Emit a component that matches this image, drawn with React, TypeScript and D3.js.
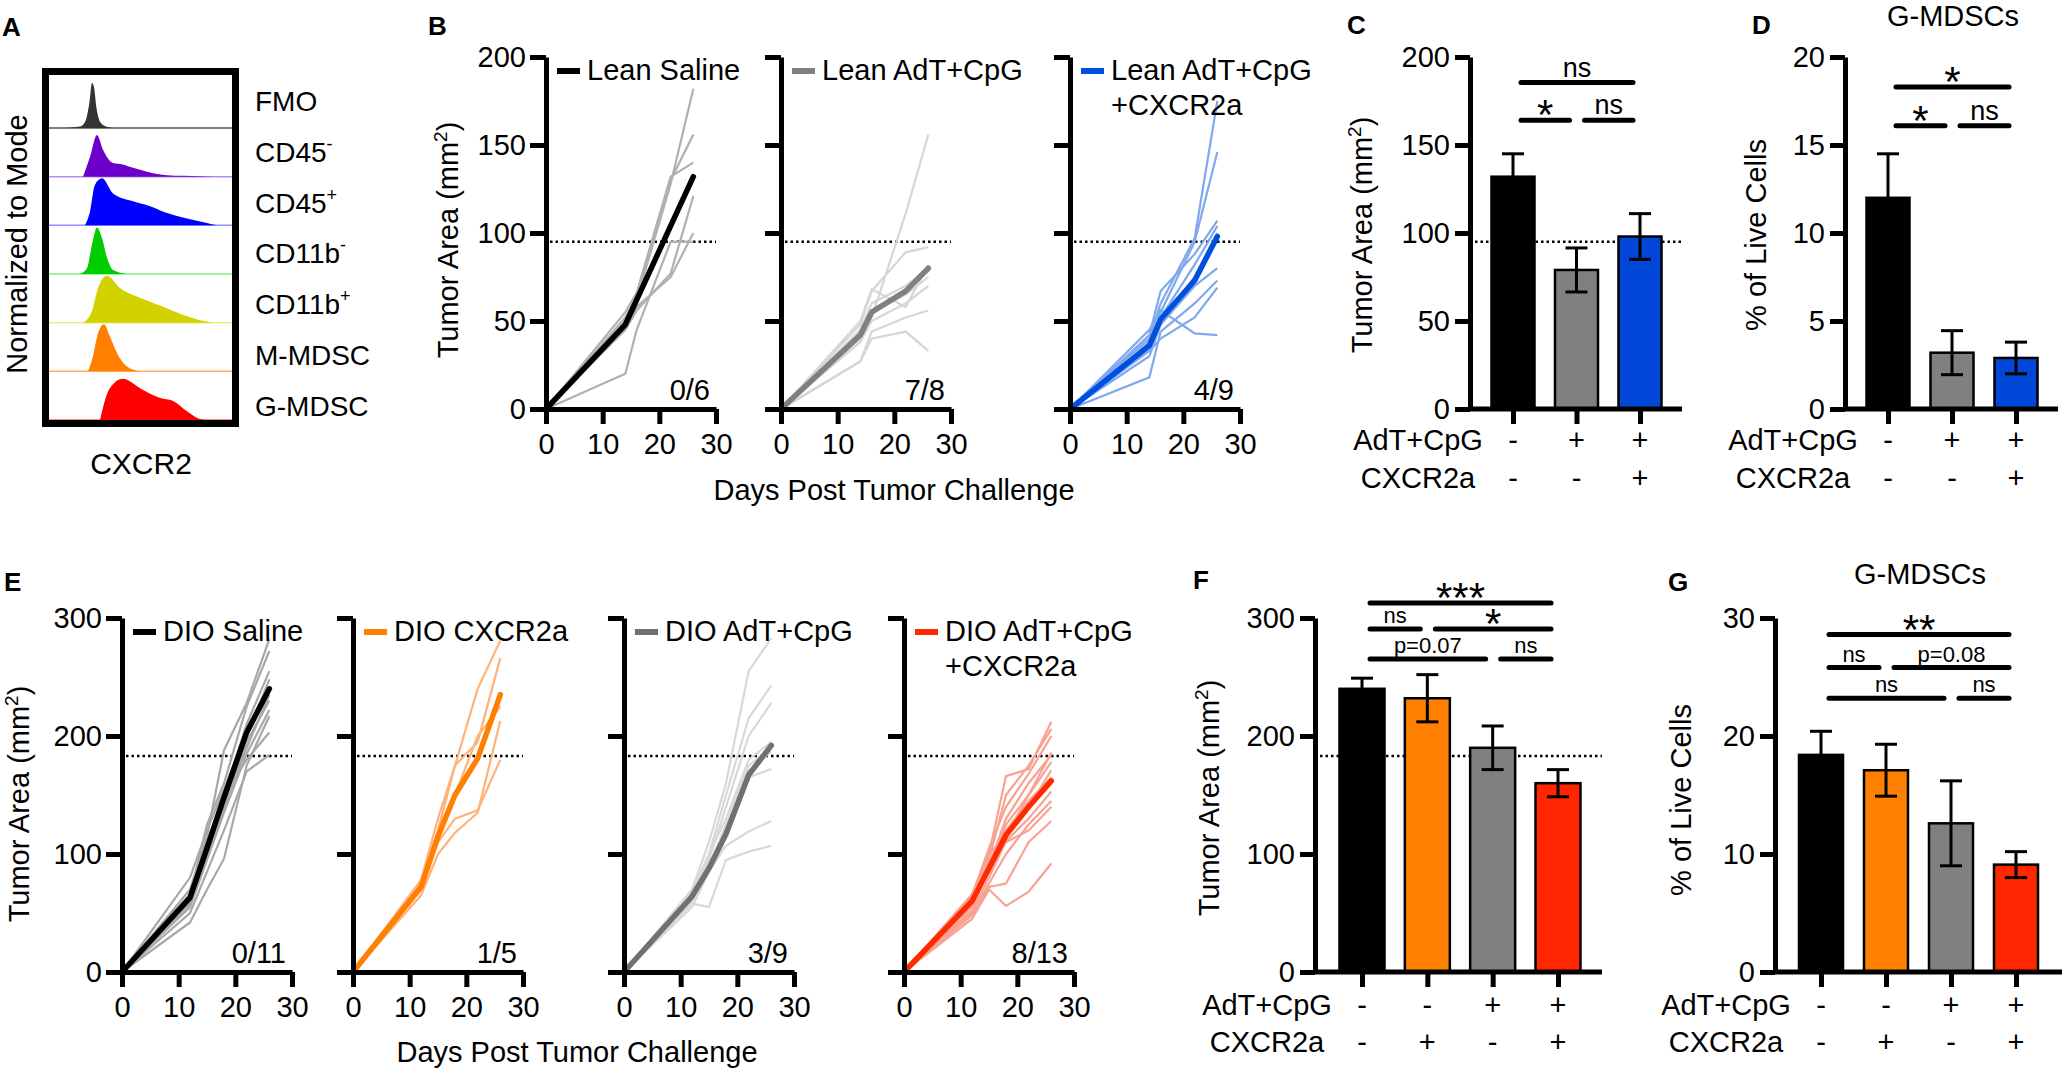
import React, { useEffect, useRef } from 'react';
import * as d3 from 'd3';

const W = 2062;
const H = 1070;
const FONT = "'Liberation Sans', Arial, Helvetica, sans-serif";

// ---------- A: CXCR2 histograms (normalized to mode) ----------
const histNames = ['FMO', 'CD45', 'CD45', 'CD11b', 'CD11b', 'M-MDSC', 'G-MDSC'];
const histSups = ['', '-', '+', '-', '+', '', ''];
const histColors = ['#333333', '#6a00c9', '#0000ff', '#00cc00', '#d2d200', '#ff8000', '#ff0000'];
const histEdges = ['#555555', '#b58cf0', '#9090ff', '#80ee80', '#eeee80', '#ffb060', '#ff6060'];
const histX = [
  [8, 17, 20, 22, 23.5, 24.5, 26, 28, 31, 35],
  [18.6, 22.4, 26.2, 29.5, 35, 40.4, 45.9, 53.6, 64.5, 82.5, 90],
  [19.7, 22.4, 25, 29, 35, 45.9, 55.2, 64.5, 75.4, 86.3, 91.8],
  [17, 20.8, 23.5, 26.2, 29, 31.7, 35, 42.6],
  [18.6, 23.5, 26.8, 31.7, 38.8, 49.7, 60.7, 71.6, 82.5, 89.6],
  [21.3, 24, 26.8, 30, 33.3, 37.2, 42.6, 49.7],
  [27.9, 31.7, 35, 40.4, 49.7, 60.7, 67.8, 75.4, 82.5, 85],
];
const histY = [
  [0, 0.03, 0.15, 0.5, 0.92, 0.85, 0.4, 0.12, 0.03, 0],
  [0, 0.4, 0.85, 0.55, 0.28, 0.25, 0.18, 0.1, 0.03, 0.01, 0],
  [0, 0.28, 0.82, 0.96, 0.65, 0.49, 0.39, 0.25, 0.14, 0.05, 0],
  [0, 0.12, 0.6, 0.95, 0.73, 0.33, 0.08, 0],
  [0, 0.24, 0.71, 0.96, 0.71, 0.51, 0.35, 0.18, 0.05, 0],
  [0, 0.3, 0.78, 0.96, 0.71, 0.37, 0.1, 0],
  [0, 0.53, 0.73, 0.84, 0.65, 0.45, 0.39, 0.18, 0.02, 0],
];

// ---------- B: lean mice tumor growth ----------
const leanDays = [0, 14, 16, 22, 26];
const leanSalineMice = [
  [0, 50, 62, 128, 182],
  [0, 52, 64, 130, 156],
  [0, 55, 66, 132, 140],
  [0, 45, 56, 77, 121],
  [0, 20, 45, 95, 95],
  [0, 47, 58, 75, 100],
];
const leanSalineMean = [0, 48, 62, 104, 132];
const leanAdtMice = [
  [0, 42, 52, 111, 156],
  [0, 48, 67, 89, 92],
  [0, 50, 68, 58, 82],
  [0, 27, 44, 52, 56],
  [0, 27, 40, 44, 33],
  [0, 40, 55, 65, 75],
  [0, 38, 50, 60, 70],
  [0, 45, 60, 70, 80],
];
const leanAdtMean = [0, 42, 55, 67, 80];
const leanComboMice = [
  [0, 40, 60, 97, 175],
  [0, 38, 55, 95, 146],
  [0, 42, 67, 88, 107],
  [0, 35, 52, 82, 104],
  [0, 30, 48, 70, 80],
  [0, 18, 44, 60, 73],
  [0, 33, 40, 52, 69],
  [0, 45, 56, 43, 42],
  [0, 36, 50, 75, 100],
];
const leanComboMean = [0, 36, 51, 73, 98];

// ---------- C / D: lean endpoints ----------
const leanGroups = ['Saline', 'AdT+CpG', 'AdT+CpG+CXCR2a'];
const leanAdtSigns = ['-', '+', '+'];
const leanCxcrSigns = ['-', '-', '+'];
const leanAreaMean = [132, 79, 98];
const leanAreaSem = [13, 12.5, 13];
const leanGmdscMean = [12.0, 3.2, 2.9];
const leanGmdscSem = [2.5, 1.25, 0.9];
const leanSigPairs = [[0, 2], [0, 1], [1, 2]];
const leanAreaSigLabels = ['ns', '*', 'ns'];
const leanAreaSigLevels = [185.5, 164, 164];
const leanGmdscSigLabels = ['*', '*', 'ns'];
const leanGmdscSigLevels = [18.3, 16.1, 16.1];

// ---------- E: DIO mice tumor growth ----------
const dioDays = [0, 12, 15, 18, 22, 26];
const dioSalineMice = [
  [0, 70, 115, 188, 228, 282],
  [0, 65, 125, 160, 225, 272],
  [0, 62, 110, 150, 210, 255],
  [0, 58, 105, 145, 200, 248],
  [0, 80, 120, 155, 205, 240],
  [0, 60, 100, 140, 195, 230],
  [0, 55, 95, 135, 185, 222],
  [0, 42, 70, 96, 175, 217],
  [0, 66, 110, 150, 180, 203],
  [0, 50, 85, 120, 170, 184],
  [0, 63, 100, 140, 190, 235],
];
const dioSalineMean = [0, 63, 105, 148, 203, 240];
const dioCxcrMice = [
  [0, 78, 130, 175, 240, 281],
  [0, 70, 115, 150, 200, 225],
  [0, 65, 100, 118, 135, 213],
  [0, 72, 110, 130, 137, 180],
  [0, 75, 120, 175, 195, 266],
];
const dioCxcrMean = [0, 72, 115, 150, 181, 235];
const dioAdtMice = [
  [0, 70, 110, 160, 255, 283],
  [0, 65, 100, 150, 215, 243],
  [0, 62, 95, 140, 200, 228],
  [0, 60, 90, 120, 170, 187],
  [0, 66, 85, 115, 165, 172],
  [0, 55, 85, 107, 119, 128],
  [0, 58, 55, 95, 102, 107],
  [0, 68, 100, 130, 180, 195],
  [0, 64, 90, 125, 175, 190],
];
const dioAdtMean = [0, 64, 88, 117, 167, 192];
const dioComboMice = [
  [0, 62, 100, 166, 172, 212],
  [0, 60, 95, 150, 175, 206],
  [0, 65, 105, 140, 168, 200],
  [0, 58, 90, 130, 160, 184],
  [0, 55, 88, 125, 150, 178],
  [0, 60, 85, 118, 140, 171],
  [0, 63, 92, 120, 145, 165],
  [0, 52, 80, 111, 130, 153],
  [0, 50, 75, 100, 125, 145],
  [0, 57, 88, 110, 120, 140],
  [0, 48, 72, 75, 110, 128],
  [0, 45, 70, 56, 68, 92],
  [0, 66, 100, 115, 150, 186],
];
const dioComboMean = [0, 60, 88, 116, 140, 162];

// ---------- F / G: DIO endpoints ----------
const dioGroups = ['Saline', 'CXCR2a', 'AdT+CpG', 'AdT+CpG+CXCR2a'];
const dioAdtSigns = ['-', '-', '+', '+'];
const dioCxcrSigns = ['-', '+', '-', '+'];
const dioAreaMean = [240, 232, 190, 160];
const dioAreaSem = [9, 20, 18.5, 11.5];
const dioGmdscMean = [18.4, 17.1, 12.6, 9.1];
const dioGmdscSem = [2.0, 2.2, 3.6, 1.1];
const dioSigPairs = [[0, 3], [0, 1], [1, 3], [0, 2], [2, 3]];
const dioAreaSigLabels = ['***', 'ns', '*', 'p=0.07', 'ns'];
const dioAreaSigLevels = [312.7, 290.7, 290.7, 265.3, 265.3];
const dioGmdscSigLabels = ['**', 'ns', 'p=0.08', 'ns', 'ns'];
const dioGmdscSigLevels = [28.6, 25.8, 25.8, 23.2, 23.2];

type Sel = d3.Selection<any, any, any, any>;

const addText = (g: Sel, x: number, y: number, txt: string, size: number, anchor = 'start', weight = 'normal') =>
  g
    .append('text')
    .attr('x', x)
    .attr('y', y)
    .attr('text-anchor', anchor)
    .style('font-family', FONT)
    .style('font-size', `${size}px`)
    .style('font-weight', weight)
    .attr('fill', '#000')
    .text(txt);

// rotated axis title; sup = superscript appended after main text, then tail
const yTitle = (g: Sel, cx: number, cy: number, main: string, sup = '', tail = '') => {
  const t = g
    .append('text')
    .attr('transform', `translate(${cx + 9},${cy}) rotate(-90)`)
    .attr('text-anchor', 'middle')
    .style('font-family', FONT)
    .style('font-size', '29px')
    .attr('fill', '#000');
  t.append('tspan').text(main);
  if (sup) {
    t.append('tspan').attr('dy', -11).style('font-size', '19px').text(sup);
    t.append('tspan').attr('dy', 11).text(tail);
  }
};

const styleAxis = (ax: Sel) => {
  ax.attr('font-family', FONT).attr('font-size', 29);
  ax.select('.domain').attr('stroke', '#000').attr('stroke-width', 5);
  ax.selectAll('.tick line').attr('stroke', '#000').attr('stroke-width', 5);
  ax.selectAll('.tick text').attr('fill', '#000');
};

function drawHistograms(svg: Sel) {
  const g = svg.append('g');
  const x = d3.scaleLinear().domain([0, 100]).range([49, 232]);
  const base = d3.scaleLinear().domain([0, 6]).range([128, 420]);
  const rowH = 49;
  histX.forEach((xs, i) => {
    const b = base(i);
    const area = d3
      .area<number>()
      .x((_, j) => x(xs[j]))
      .y0(b)
      .y1((d) => b - d * rowH)
      .curve(d3.curveMonotoneX);
    g.append('line').attr('x1', 49).attr('x2', 232).attr('y1', b).attr('y2', b)
      .attr('stroke', histEdges[i]).attr('stroke-width', 1.5);
    g.append('path').attr('d', area(histY[i])).attr('fill', histColors[i]);
    const t = addText(g, 255, 101 + i * 50.8 + 10, histNames[i], 28);
    if (histSups[i]) t.append('tspan').attr('dy', -12).style('font-size', '18px').text(histSups[i]);
  });
  g.append('rect').attr('x', 45.5).attr('y', 71.5).attr('width', 190).attr('height', 352)
    .attr('fill', 'none').attr('stroke', '#000').attr('stroke-width', 7);
  yTitle(g, 18, 244, 'Normalized to Mode');
  addText(g, 141, 474, 'CXCR2', 30, 'middle');
  addText(g, 2, 36, 'A', 26, 'start', 'bold');
}

type GrowthOpts = {
  ax: number; yBot: number; yTop: number; yMax: number; yStep: number; yLabels: boolean;
  days: number[]; mice: number[][]; mean: number[]; light: string; dark: string;
  legend: string[]; count: string; cut: number;
};

function drawGrowth(svg: Sel, o: GrowthOpts) {
  const x = d3.scaleLinear().domain([0, 30]).range([o.ax, o.ax + 170]);
  const y = d3.scaleLinear().domain([0, o.yMax]).range([o.yBot, o.yTop]);
  const g = svg.append('g');

  g.append('line')
    .attr('x1', o.ax + 4).attr('x2', x(30))
    .attr('y1', y(o.cut)).attr('y2', y(o.cut))
    .attr('stroke', '#000').attr('stroke-width', 2.5).attr('stroke-dasharray', '2.5,3');

  const line = d3.line<number>().x((_, i) => x(o.days[i])).y((d) => y(d));
  g.selectAll('path.mouse').data(o.mice).enter().append('path')
    .attr('class', 'mouse')
    .attr('d', (d) => line(d))
    .attr('fill', 'none').attr('stroke', o.light).attr('stroke-width', 2.2);
  g.append('path').datum(o.mean).attr('d', line)
    .attr('fill', 'none').attr('stroke', o.dark).attr('stroke-width', 5.5)
    .attr('stroke-linejoin', 'round').attr('stroke-linecap', 'round');

  const yAxis = d3.axisLeft(y)
    .tickValues(d3.range(0, o.yMax + 1, o.yStep))
    .tickSizeInner(16).tickSizeOuter(0).tickPadding(4)
    .tickFormat((d) => (o.yLabels ? String(d) : ''));
  const ya = g.append('g').attr('transform', `translate(${o.ax},0)`).call(yAxis);
  styleAxis(ya);
  const xa = g.append('g').attr('transform', `translate(0,${o.yBot})`)
    .call(d3.axisBottom(x).tickValues([0, 10, 20, 30]).tickSizeInner(15).tickSizeOuter(0).tickPadding(9));
  styleAxis(xa);

  g.append('line').attr('x1', o.ax + 11).attr('x2', o.ax + 34)
    .attr('y1', o.yTop + 14).attr('y2', o.yTop + 14)
    .attr('stroke', o.dark).attr('stroke-width', 6);
  o.legend.forEach((t, i) => addText(g, o.ax + 41, o.yTop + 23 + i * 35, t, 29));
  addText(g, o.ax + 164, o.yBot - 9, o.count, 29, 'end');
}

type BarOpts = {
  ax: number; axEnd: number; c0: number; c1: number; barW: number;
  yBot: number; yTop: number; yMax: number; yStep: number;
  groups: string[]; means: number[]; sems: number[]; colors: string[];
  adt: string[]; cxcr: string[]; row1: number; row2: number;
  pairs: number[][]; sigLabels: string[]; sigLevels: number[]; sigSize: number;
  cut?: number;
};

function drawBars(svg: Sel, o: BarOpts) {
  const x = d3.scalePoint().domain(o.groups).range([o.c0, o.c1]);
  const y = d3.scaleLinear().domain([0, o.yMax]).range([o.yBot, o.yTop]);
  const g = svg.append('g');

  if (o.cut !== undefined) {
    g.append('line').attr('x1', o.ax + 5).attr('x2', o.axEnd)
      .attr('y1', y(o.cut)).attr('y2', y(o.cut))
      .attr('stroke', '#000').attr('stroke-width', 2.5).attr('stroke-dasharray', '2.5,3');
  }

  g.selectAll('rect.bar').data(o.groups).enter().append('rect')
    .attr('class', 'bar')
    .attr('x', (d) => (x(d) as number) - o.barW / 2)
    .attr('y', (_, i) => y(o.means[i]))
    .attr('width', o.barW)
    .attr('height', (_, i) => o.yBot - y(o.means[i]))
    .attr('fill', (_, i) => o.colors[i])
    .attr('stroke', '#000').attr('stroke-width', 2.5);

  o.groups.forEach((grp, i) => {
    const cx = x(grp) as number;
    const lo = y(o.means[i] - o.sems[i]);
    const hi = y(o.means[i] + o.sems[i]);
    g.append('line').attr('x1', cx).attr('x2', cx).attr('y1', lo).attr('y2', hi)
      .attr('stroke', '#000').attr('stroke-width', 3);
    [lo, hi].forEach((yy) =>
      g.append('line').attr('x1', cx - 11).attr('x2', cx + 11).attr('y1', yy).attr('y2', yy)
        .attr('stroke', '#000').attr('stroke-width', 3));
    addText(g, cx, o.row1, o.adt[i], 29, 'middle');
    addText(g, cx, o.row2, o.cxcr[i], 29, 'middle');
  });

  const ya = g.append('g').attr('transform', `translate(${o.ax},0)`)
    .call(d3.axisLeft(y).tickValues(d3.range(0, o.yMax + 1, o.yStep))
      .tickSizeInner(15).tickSizeOuter(0).tickPadding(5));
  styleAxis(ya);
  const xa = g.append('g').attr('transform', `translate(0,${o.yBot})`)
    .call(d3.axisBottom(x).tickSizeInner(15).tickSizeOuter(0).tickFormat(() => ''));
  xa.select('.domain').remove();
  styleAxis(xa);
  g.append('line').attr('x1', o.ax).attr('x2', o.axEnd).attr('y1', o.yBot).attr('y2', o.yBot)
    .attr('stroke', '#000').attr('stroke-width', 5);

  const lx = o.c0 - 95;
  addText(g, lx, o.row1, 'AdT+CpG', 29, 'middle');
  addText(g, lx, o.row2, 'CXCR2a', 29, 'middle');

  // significance brackets
  o.pairs.forEach(([a, b], k) => {
    const x1 = (x(o.groups[a]) as number) + 8;
    const x2 = (x(o.groups[b]) as number) - 7;
    const ly = y(o.sigLevels[k]);
    g.append('line').attr('x1', x1).attr('x2', x2).attr('y1', ly).attr('y2', ly)
      .attr('stroke', '#000').attr('stroke-width', 5).attr('stroke-linecap', 'round');
    const lab = o.sigLabels[k];
    const mid = (x1 + x2) / 2;
    if (lab.startsWith('*')) addText(g, mid, ly + 9, lab, 42, 'middle');
    else addText(g, mid, ly - 6, lab, o.sigSize, 'middle');
  });
}

const App = () => {
  const svgRef = useRef<SVGSVGElement>(null);

  useEffect(() => {
    const svg = d3.select(svgRef.current);
    svg.selectAll('*').remove();

    drawHistograms(svg);

    // B
    const bTop = 57;
    const bBot = 409;
    const bCommon = { yBot: bBot, yTop: bTop, yMax: 200, yStep: 50, days: leanDays, cut: 95 };
    drawGrowth(svg, { ...bCommon, ax: 546, yLabels: true, mice: leanSalineMice, mean: leanSalineMean,
      light: '#b0b0b0', dark: '#000000', legend: ['Lean Saline'], count: '0/6' });
    drawGrowth(svg, { ...bCommon, ax: 781, yLabels: false, mice: leanAdtMice, mean: leanAdtMean,
      light: '#d6d6d6', dark: '#808080', legend: ['Lean AdT+CpG'], count: '7/8' });
    drawGrowth(svg, { ...bCommon, ax: 1070, yLabels: false, mice: leanComboMice, mean: leanComboMean,
      light: '#80a8f0', dark: '#0050e0', legend: ['Lean AdT+CpG', '+CXCR2a'], count: '4/9' });
    yTitle(svg, 449, 240, 'Tumor Area (mm', '2', ')');
    addText(svg, 894, 500, 'Days Post Tumor Challenge', 29, 'middle');
    addText(svg, 428, 35, 'B', 26, 'start', 'bold');

    // C
    drawBars(svg, { ax: 1470, axEnd: 1682, c0: 1513, c1: 1640, barW: 43, yBot: bBot, yTop: bTop,
      yMax: 200, yStep: 50, groups: leanGroups, means: leanAreaMean, sems: leanAreaSem,
      colors: ['#000000', '#808080', '#0047d8'], adt: leanAdtSigns, cxcr: leanCxcrSigns, row1: 450, row2: 488,
      pairs: leanSigPairs, sigLabels: leanAreaSigLabels, sigLevels: leanAreaSigLevels, sigSize: 27, cut: 95 });
    yTitle(svg, 1363, 235, 'Tumor Area (mm', '2', ')');
    addText(svg, 1347, 34, 'C', 26, 'start', 'bold');

    // D
    drawBars(svg, { ax: 1845, axEnd: 2058, c0: 1888, c1: 2016, barW: 43, yBot: bBot, yTop: bTop,
      yMax: 20, yStep: 5, groups: leanGroups, means: leanGmdscMean, sems: leanGmdscSem,
      colors: ['#000000', '#808080', '#0047d8'], adt: leanAdtSigns, cxcr: leanCxcrSigns, row1: 450, row2: 488,
      pairs: leanSigPairs, sigLabels: leanGmdscSigLabels, sigLevels: leanGmdscSigLevels, sigSize: 27 });
    yTitle(svg, 1757, 235, '% of Live Cells');
    addText(svg, 1953, 26, 'G-MDSCs', 29, 'middle');
    addText(svg, 1752, 34, 'D', 26, 'start', 'bold');

    // E
    const eTop = 618;
    const eBot = 972;
    const eCommon = { yBot: eBot, yTop: eTop, yMax: 300, yStep: 100, days: dioDays, cut: 183 };
    drawGrowth(svg, { ...eCommon, ax: 122, yLabels: true, mice: dioSalineMice, mean: dioSalineMean,
      light: '#a8a8a8', dark: '#000000', legend: ['DIO Saline'], count: '0/11' });
    drawGrowth(svg, { ...eCommon, ax: 353, yLabels: false, mice: dioCxcrMice, mean: dioCxcrMean,
      light: '#ffb27a', dark: '#ff8000', legend: ['DIO CXCR2a'], count: '1/5' });
    drawGrowth(svg, { ...eCommon, ax: 624, yLabels: false, mice: dioAdtMice, mean: dioAdtMean,
      light: '#d8d8d8', dark: '#707070', legend: ['DIO AdT+CpG'], count: '3/9' });
    drawGrowth(svg, { ...eCommon, ax: 904, yLabels: false, mice: dioComboMice, mean: dioComboMean,
      light: '#f9a293', dark: '#ff2a00', legend: ['DIO AdT+CpG', '+CXCR2a'], count: '8/13' });
    yTitle(svg, 20, 804, 'Tumor Area (mm', '2', ')');
    addText(svg, 577, 1062, 'Days Post Tumor Challenge', 29, 'middle');
    addText(svg, 4, 591, 'E', 26, 'start', 'bold');

    // F
    drawBars(svg, { ax: 1315, axEnd: 1602, c0: 1362, c1: 1558, barW: 45, yBot: eBot, yTop: eTop,
      yMax: 300, yStep: 100, groups: dioGroups, means: dioAreaMean, sems: dioAreaSem,
      colors: ['#000000', '#ff8000', '#808080', '#ff2600'], adt: dioAdtSigns, cxcr: dioCxcrSigns, row1: 1015, row2: 1052,
      pairs: dioSigPairs, sigLabels: dioAreaSigLabels, sigLevels: dioAreaSigLevels, sigSize: 22, cut: 183 });
    yTitle(svg, 1210, 798, 'Tumor Area (mm', '2', ')');
    addText(svg, 1193, 589, 'F', 26, 'start', 'bold');

    // G
    drawBars(svg, { ax: 1775, axEnd: 2062, c0: 1821, c1: 2016, barW: 44, yBot: eBot, yTop: eTop,
      yMax: 30, yStep: 10, groups: dioGroups, means: dioGmdscMean, sems: dioGmdscSem,
      colors: ['#000000', '#ff8000', '#808080', '#ff2600'], adt: dioAdtSigns, cxcr: dioCxcrSigns, row1: 1015, row2: 1052,
      pairs: dioSigPairs, sigLabels: dioGmdscSigLabels, sigLevels: dioGmdscSigLevels, sigSize: 22 });
    yTitle(svg, 1682, 800, '% of Live Cells');
    addText(svg, 1920, 584, 'G-MDSCs', 29, 'middle');
    addText(svg, 1668, 591, 'G', 26, 'start', 'bold');
  }, []);

  return (
    <svg
      ref={svgRef}
      width={W}
      height={H}
      style={{ position: 'absolute', left: 0, top: 0, background: '#ffffff' }}
    />
  );
};

export default App;
